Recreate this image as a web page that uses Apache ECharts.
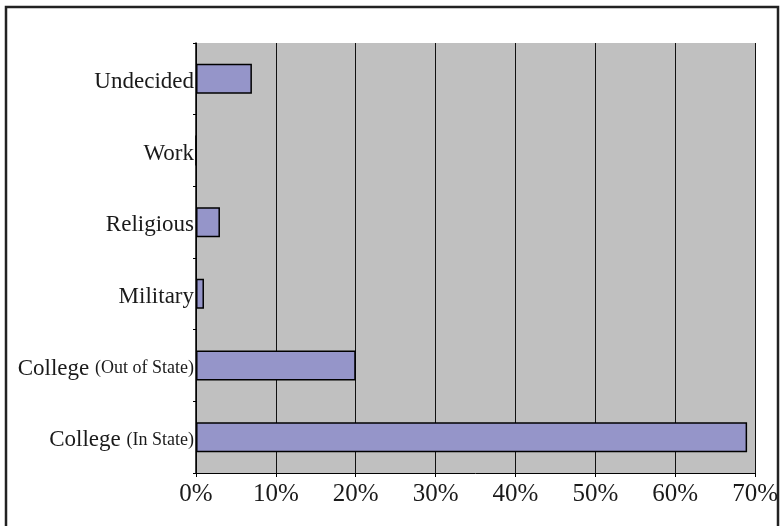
<!DOCTYPE html>
<html>
<head>
<meta charset="utf-8">
<script src="https://cdn.jsdelivr.net/npm/echarts@6/dist/echarts.min.js"></script>
<style>
html,body{margin:0;padding:0;background:#fff;}
#chart{width:781px;height:526px;}
</style>
</head>
<body>
<div id="chart"></div>
<script>
var categories = ['College (In State)', 'College (Out of State)', 'Military', 'Religious', 'Work', 'Undecided'];
var values = [69, 20, 1, 3, 0, 7];
var xTicks = ['0%', '10%', '20%', '30%', '40%', '50%', '60%', '70%'];

var chart = echarts.init(document.getElementById('chart'));
var serif = '"Liberation Serif", "DejaVu Serif", serif';

chart.setOption({
  backgroundColor: '#fff',
  animation: false,
  graphic: [{
    type: 'rect',
    shape: { x: 6, y: 7, width: 772, height: 540 },
    style: { fill: 'none', stroke: '#222', lineWidth: 2.5 },
    z: 100
  }],
  grid: {
    left: 196, right: 21, top: 43, bottom: 53,
    show: true, backgroundColor: '#C0C0C0', borderWidth: 0
  },
  xAxis: {
    type: 'value', min: 0, max: 70, interval: 10,
    axisLine: { show: true, lineStyle: { color: '#000', width: 1 } },
    axisTick: { show: true, length: 4, lineStyle: { color: '#000' } },
    splitLine: { show: true, lineStyle: { color: '#111', width: 1 } },
    axisLabel: {
      color: '#1a1a1a', fontFamily: serif, fontSize: 25, margin: 9,
      formatter: function (v) { return xTicks[Math.round(v / 10)]; }
    }
  },
  yAxis: {
    type: 'category', data: categories,
    axisLine: { show: true, lineStyle: { color: '#000', width: 1.5 } },
    axisTick: { show: true, length: 3, lineStyle: { color: '#000' } },
    axisLabel: {
      margin: 2, color: '#1a1a1a',
      formatter: function (v) {
        var i = v.indexOf(' (');
        if (i >= 0) {
          return '{a|' + v.slice(0, i) + ' }{b|' + v.slice(i + 1) + '}';
        }
        return '{a|' + v + '}';
      },
      rich: {
        a: { fontFamily: serif, fontSize: 23, color: '#1a1a1a', padding: [6, 0, 0, 0] },
        b: { fontFamily: serif, fontSize: 18, color: '#1a1a1a', padding: [6, 0, 0, 0] }
      }
    }
  },
  series: [{
    type: 'bar',
    data: values,
    barWidth: 30,
    itemStyle: { color: '#9595C9', borderColor: '#000', borderWidth: 1.5 }
  }]
});
</script>
</body>
</html>
